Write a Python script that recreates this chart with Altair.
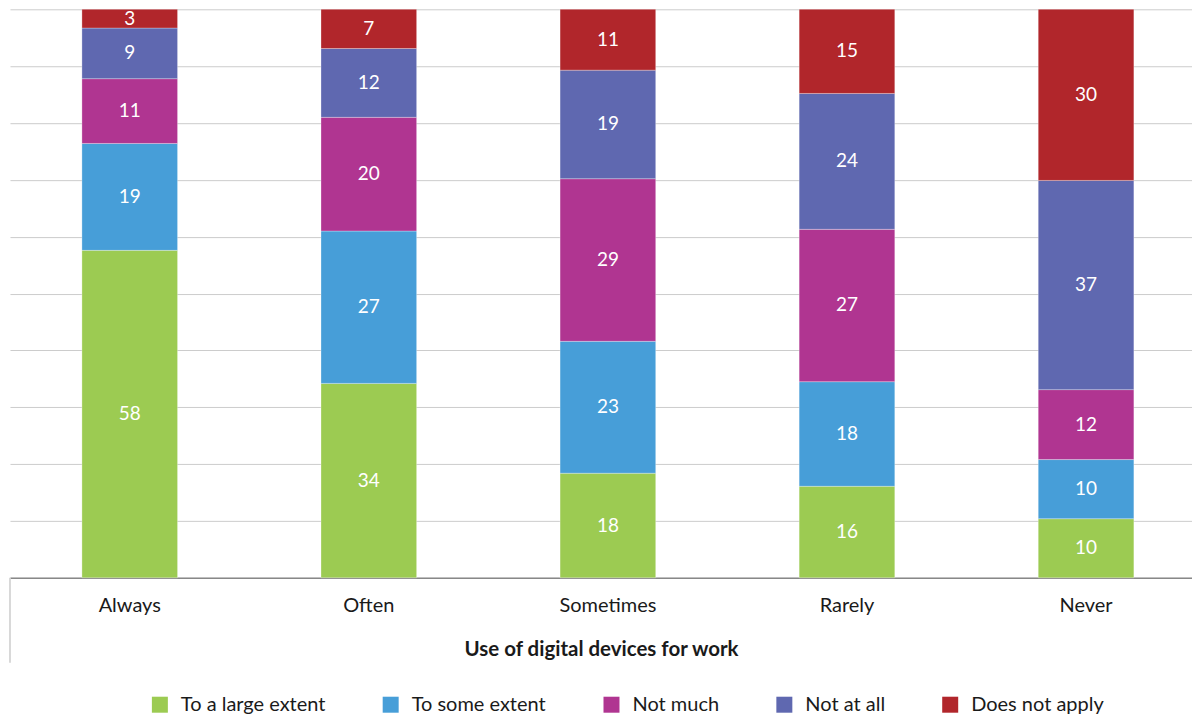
import altair as alt
import pandas as pd

categories = ["Always", "Often", "Sometimes", "Rarely", "Never"]
series = ["To a large extent", "To some extent", "Not much", "Not at all", "Does not apply"]
colors = ["#9ccb52", "#479ed8", "#b03591", "#5f68b0", "#b1262b"]

large_extent = [57.6, 34.2, 18.4, 16.1, 10.4]
some_extent = [18.8, 26.8, 23.2, 18.4, 10.4]
not_much = [11.4, 20.0, 28.6, 26.8, 12.3]
not_at_all = [8.9, 12.1, 19.1, 23.9, 36.8]
does_not_apply = [3.3, 6.9, 10.7, 14.8, 30.1]

values = [large_extent, some_extent, not_much, not_at_all, does_not_apply]
rows = []
for si, (s, vals) in enumerate(zip(series, values)):
    for c, v in zip(categories, vals):
        rows.append({"category": c, "series": s, "order": si, "value": v})
df = pd.DataFrame(rows)

FONT = "Lato"

base = alt.Chart(df).transform_stack(
    stack="value", groupby=["category"], as_=["y0", "y1"],
    sort=[alt.SortField("order", order="ascending")]
).transform_calculate(
    mid="(datum.y0 + datum.y1) / 2"
)

xscale = alt.Scale(domain=categories, paddingInner=0.6, paddingOuter=0.272, align=0.553)
yscale = alt.Scale(domain=[0, 100], nice=False, padding=0, zero=True)

xaxis = alt.Axis(title="Use of digital devices for work", labelAngle=0,
                 labelFontSize=20, labelFont=FONT, labelColor="#1a1a1a",
                 labelPadding=18, ticks=False, domainColor="#888888",
                 domainWidth=1.5, titleFont=FONT, titleFontSize=20.5,
                 titleFontWeight="bold", titleColor="#1a1a1a",
                 titlePadding=24, grid=False)
yaxis = alt.Axis(labels=False, ticks=False, domain=False, title=None,
                 grid=True, gridColor="#cccccc",
                 values=list(range(0, 101, 10)))

bars = base.mark_bar(stroke="white", strokeWidth=0.6, strokeOpacity=0.5).encode(
    x=alt.X("category:N", sort=categories, scale=xscale, axis=xaxis),
    y=alt.Y("y0:Q", scale=yscale, axis=yaxis),
    y2="y1:Q",
    color=alt.Color("series:N", sort=series,
                    scale=alt.Scale(domain=series, range=colors),
                    legend=alt.Legend(title=None, orient="none", direction="horizontal",
                                      legendX=140, legendY=686,
                                      symbolType="square", symbolSize=256,
                                      symbolStrokeWidth=0, labelFontSize=20,
                                      labelFont=FONT, labelColor="#1a1a1a",
                                      labelOffset=11, columnPadding=55,
                                      labelLimit=400)),
)

labels = base.mark_text(color="white", fontSize=19, font=FONT).encode(
    x=alt.X("category:N", sort=categories, scale=xscale, axis=xaxis),
    y=alt.Y("mid:Q", scale=yscale, axis=yaxis),
    text=alt.Text("value:Q", format=".0f"),
)

left_rule = alt.Chart(pd.DataFrame({"k": [0]})).mark_rule(color="#cccccc", strokeWidth=1.5).encode(
    x=alt.value(0), y=alt.value(569), y2=alt.value(654)
)

chart = alt.layer(bars, labels, left_rule).properties(
    width=1183, height=569,
    padding={"left": 1, "top": 0, "right": 0, "bottom": 0},
).configure(font=FONT).configure_view(stroke=None)

chart.save("out.html", embed_options={"renderer": "svg", "actions": False})
